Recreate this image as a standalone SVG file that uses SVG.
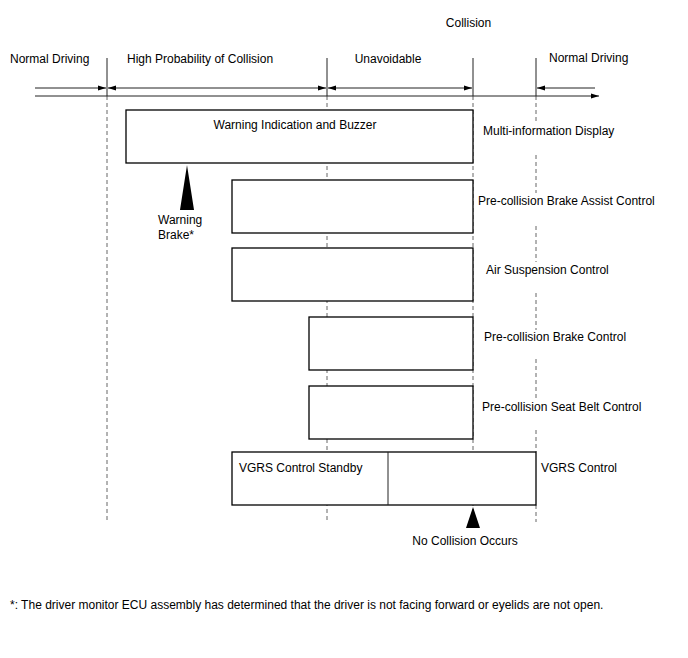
<svg xmlns="http://www.w3.org/2000/svg" width="688" height="658" viewBox="0 0 688 658">
<defs>
<style>
text{font-family:"Liberation Sans",Arial,sans-serif;font-size:12px;fill:#000}
.box{fill:#fff;stroke:#000;stroke-width:1.3}
.ln{stroke:#222;stroke-width:1;fill:none}
.dash{stroke:#666;stroke-width:1;stroke-dasharray:4 3;fill:none}
.tri{fill:#000}
</style>
<marker id="ah" viewBox="0 0 8 6" refX="8" refY="3" markerWidth="8" markerHeight="6" orient="auto-start-reverse" markerUnits="userSpaceOnUse">
<path d="M0,0.5 L8,3 L0,5.5 Z" fill="#000"/>
</marker>
</defs>
<rect width="688" height="658" fill="#fff"/>

<g id="timeline">
<line class="dash" x1="107" y1="96" x2="107" y2="522"/>
<line class="dash" x1="327" y1="96" x2="327" y2="522"/>
<line class="dash" x1="473" y1="96" x2="473" y2="522"/>
<path class="dash" d="M536,96 V123 M536,155 V193 M536,226 V262 M536,293 V330 M536,359 V398 M536,430 V452 M536,505 V522"/>
<line class="ln" x1="107" y1="58" x2="107" y2="96"/>
<line class="ln" x1="327" y1="58" x2="327" y2="96"/>
<line class="ln" x1="473" y1="58" x2="473" y2="96"/>
<line class="ln" x1="536" y1="58" x2="536" y2="96"/>
<line class="ln" x1="35" y1="96" x2="599" y2="96" marker-end="url(#ah)"/>
</g>

<g id="connectors">
<line class="ln" x1="35" y1="88" x2="106" y2="88" marker-end="url(#ah)"/>
<line class="ln" x1="108" y1="88" x2="326" y2="88" marker-start="url(#ah)" marker-end="url(#ah)"/>
<line class="ln" x1="328" y1="88" x2="472" y2="88" marker-start="url(#ah)" marker-end="url(#ah)"/>
<line class="ln" x1="595" y1="88" x2="537" y2="88" marker-end="url(#ah)"/>
</g>

<g id="phase-labels">
<text x="468.5" y="27" text-anchor="middle">Collision</text>
<text x="10" y="63">Normal Driving</text>
<text x="127" y="63">High Probability of Collision</text>
<text x="388" y="63" text-anchor="middle">Unavoidable</text>
<text x="549" y="62">Normal Driving</text>
</g>

<g id="warning-buzzer">
<rect class="box" x="126" y="110" width="347" height="53"/>
<text x="295" y="129" text-anchor="middle">Warning Indication and Buzzer</text>
<text x="483" y="135">Multi-information Display</text>
</g>

<g id="warning-brake">
<polygon class="tri" points="187,165 180,210 194,210"/>
<text x="158" y="224">Warning</text>
<text x="158" y="239">Brake*</text>
</g>

<g id="brake-assist">
<rect class="box" x="232" y="180" width="241" height="53"/>
<text x="478" y="205">Pre-collision Brake Assist Control</text>
</g>

<g id="air-suspension">
<rect class="box" x="232" y="248" width="241" height="53"/>
<text x="486" y="274">Air Suspension Control</text>
</g>

<g id="brake-control">
<rect class="box" x="309" y="317" width="164" height="53"/>
<text x="484" y="341">Pre-collision Brake Control</text>
</g>

<g id="seat-belt">
<rect class="box" x="309" y="386" width="164" height="53"/>
<text x="482" y="411">Pre-collision Seat Belt Control</text>
</g>

<g id="vgrs">
<rect class="box" x="232" y="452" width="304" height="53"/>
<line class="ln" x1="388" y1="452" x2="388" y2="505" stroke-width="1.3"/>
<text x="239" y="472">VGRS Control Standby</text>
<text x="541" y="472">VGRS Control</text>
</g>

<g id="no-collision">
<polygon class="tri" points="473,507 466,528 480,528"/>
<text x="465" y="545" text-anchor="middle">No Collision Occurs</text>
</g>

<g id="footnote">
<text x="10" y="609">*: The driver monitor ECU assembly has determined that the driver is not facing forward or eyelids are not open.</text>
</g>
</svg>
